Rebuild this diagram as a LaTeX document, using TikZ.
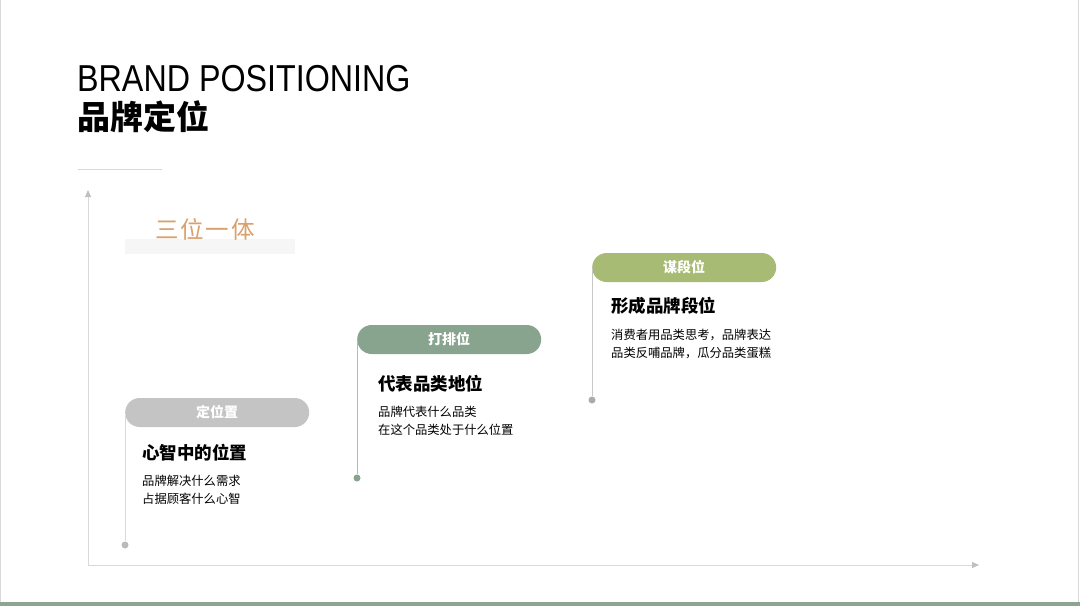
\documentclass[tikz,border=0pt]{standalone}
\usepackage{fontspec}
\setmainfont{Noto Sans CJK SC}
\newfontfamily\titlefont[FakeStretch=0.86]{Liberation Sans}
\usetikzlibrary{arrows.meta}

\definecolor{axisgray}{HTML}{D9D9D9}
\definecolor{tipgray}{HTML}{C0C0C0}
\definecolor{accent}{HTML}{D9A06B}
\definecolor{barbg}{HTML}{F6F6F6}
\definecolor{pillone}{HTML}{C4C4C4}
\definecolor{pilltwo}{HTML}{88A48E}
\definecolor{pillthree}{HTML}{A8BB74}
\definecolor{footgreen}{HTML}{8BA591}

\tikzset{
  axis/.style={draw=axisgray, line width=0.9pt, -{Triangle[length=7pt,width=6pt,color=tipgray]}},
  pill/.style={anchor=west, minimum width=184pt, minimum height=29pt, rounded corners=14.5pt,
    inner sep=0pt, text=white, font=\fontsize{14}{14}\selectfont\bfseries},
  steptitle/.style={anchor=west, inner sep=0pt, font=\fontsize{17.5}{17.5}\selectfont\bfseries},
  stepbody/.style={anchor=base west, inner sep=0pt, align=left, font=\fontsize{12.3}{18}\selectfont},
  stem/.style={line width=0.9pt},
  stepdot/.style={circle, inner sep=0pt, minimum size=7pt}
}

\begin{document}
\begin{tikzpicture}[x=1pt,y=-1pt]
\useasboundingbox (0,0) rectangle (1080,606);
% frame
\fill[white] (0,0) rectangle (1080,606);
\draw[axisgray, line width=0.8pt] (0.4,0) -- (0.4,602) (1078,0) -- (1078,602);
\fill[footgreen] (0,602) rectangle (1080,606);

% heading
\node[anchor=west, inner sep=0pt, font=\titlefont\fontsize{37.5}{37.5}\selectfont] (entitle) at (77,78.5) {BRAND POSITIONING};
\node[anchor=west, inner sep=0pt, font=\fontsize{33}{33}\selectfont\bfseries] (cntitle) at (77,117) {品牌定位};
\draw[axisgray, line width=0.8pt] (78,169) -- (162,169);

% axes
\coordinate (origin) at (88,565);
\coordinate (ytop) at (88,190);
\coordinate (xend) at (979,565);
\draw[axis] (origin) -- (ytop);
\draw[axis] (origin) -- (xend);

% subtitle
\fill[barbg] (125,239) rectangle (295,254);
\node[inner sep=0pt, text=accent, font=\fontsize{23.5}{23.5}\selectfont] (sub) at (205,229) {三\hspace{2pt}位\hspace{2pt}一\hspace{2pt}体};

% step 1
\node[pill, fill=pillone] (pone) at (125,412.5) {定位置};
\node[stepdot, fill=pillone!95!black] (done) at (125,545) {};
\draw[stem, draw=axisgray] (pone.west) -- (done);
\node[steptitle] (tone) at (142,453) {心智中的位置};
\node[stepbody] (bone) at (142,503.5) {品牌解决什么需求\\占据顾客什么心智};

% step 2
\node[pill, fill=pilltwo] (ptwo) at (357,339.5) {打排位};
\node[stepdot, fill=pilltwo] (dtwo) at (357,478) {};
\draw[stem, draw=pilltwo!70!white] (ptwo.west) -- (dtwo);
\node[steptitle] (ttwo) at (378,384) {代表品类地位};
\node[stepbody] (btwo) at (378,434.5) {品牌代表什么品类\\在这个品类处于什么位置};

% step 3
\node[pill, fill=pillthree] (pthree) at (592,267.5) {谋段位};
\node[stepdot, fill=black!33] (dthree) at (592,400) {};
\draw[stem, draw=black!22] (pthree.west) -- (dthree);
\node[steptitle] (tthree) at (611,306) {形成品牌段位};
\node[stepbody] (bthree) at (611,357.5) {消费者用品类思考，品牌表达\\品类反哺品牌，瓜分品类蛋糕};
\end{tikzpicture}
\end{document}
